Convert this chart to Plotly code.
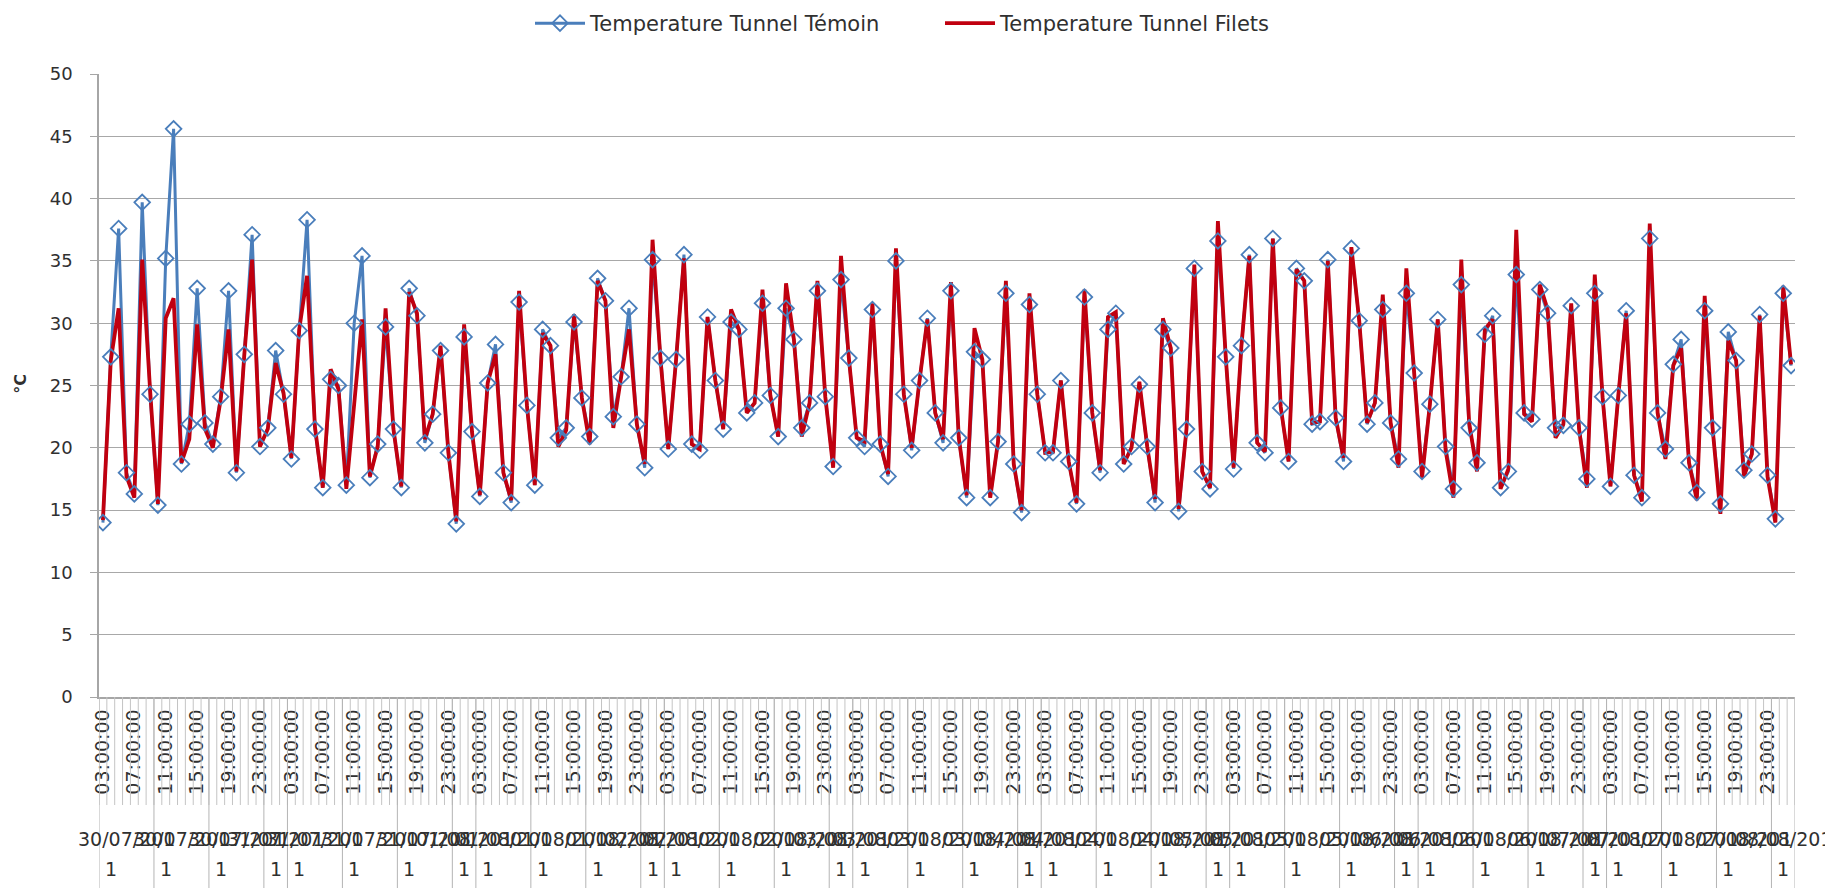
import plotly.graph_objects as go

# ---------------- data ----------------
dates = ["30/07/2011", "31/07/2011", "01/08/2011", "02/08/2011", "03/08/2011",
         "04/08/2011", "05/08/2011", "06/08/2011", "07/08/2011", "08/08/2011"]
first_hour = 3                      # first reading at 03:00:00 on 30/07/2011
label_every = 4                     # a time label every 4th reading
group_start_hours = [3, 10, 17, 0]  # where the date-level groups start

temoin = [
    14.0, 27.3, 37.6, 18.0, 16.3, 39.7, 24.3, 15.4, 35.2, 45.6,
    18.7, 21.9, 32.8, 22.0, 20.3, 24.1, 32.6, 18.0, 27.5, 37.1,
    20.1, 21.6, 27.8, 24.3, 19.1, 29.4, 38.3, 21.5, 16.8, 25.5,
    25.0, 17.0, 30.0, 35.4, 17.6, 20.3, 29.7, 21.5, 16.8, 32.8,
    30.6, 20.4, 22.7, 27.8, 19.6, 13.9, 28.9, 21.3, 16.1, 25.2,
    28.3, 18.0, 15.6, 31.7, 23.4, 17.0, 29.5, 28.2, 20.8, 21.6,
    30.1, 24.0, 20.9, 33.6, 31.8, 22.5, 25.7, 31.2, 21.9, 18.4,
    35.1, 27.2, 19.9, 27.1, 35.5, 20.3, 19.8, 30.5, 25.4, 21.5,
    30.1, 29.5, 22.8, 23.6, 31.6, 24.2, 20.9, 31.2, 28.7, 21.6,
    23.6, 32.6, 24.1, 18.5, 33.5, 27.2, 20.8, 20.1, 31.1, 20.3,
    17.7, 35.0, 24.3, 19.8, 25.4, 30.4, 22.8, 20.4, 32.6, 20.8,
    16.0, 27.7, 27.1, 16.0, 20.5, 32.4, 18.7, 14.8, 31.5, 24.3,
    19.6, 19.6, 25.4, 18.9, 15.5, 32.1, 22.8, 18.0, 29.5, 30.8,
    18.7, 20.1, 25.1, 20.1, 15.6, 29.5, 28.0, 14.9, 21.5, 34.4,
    18.1, 16.7, 36.6, 27.3, 18.3, 28.2, 35.5, 20.4, 19.6, 36.8,
    23.2, 18.9, 34.4, 33.4, 21.9, 22.1, 35.1, 22.4, 18.9, 36.0,
    30.2, 21.9, 23.6, 31.1, 22.0, 19.1, 32.4, 26.0, 18.1, 23.5,
    30.3, 20.1, 16.7, 33.1, 21.6, 18.8, 29.1, 30.6, 16.8, 18.1,
    33.9, 22.8, 22.3, 32.7, 30.8, 21.6, 21.8, 31.4, 21.6, 17.5,
    32.4, 24.1, 16.9, 24.2, 31.0, 17.8, 16.0, 36.8, 22.8, 19.9,
    26.7, 28.7, 18.8, 16.4, 31.0, 21.6, 15.5, 29.3, 27.0, 18.2,
    19.5, 30.7, 17.8, 14.3, 32.4, 26.6,
]

filets = [
    14.2, 27.0, 31.2, 17.7, 16.0, 35.1, 24.7, 15.5, 30.4, 32.0,
    18.8, 20.7, 29.9, 21.5, 20.0, 23.9, 29.5, 18.1, 27.4, 35.1,
    20.1, 21.5, 26.8, 24.4, 19.2, 29.5, 33.8, 21.7, 16.8, 26.3,
    24.7, 16.7, 23.5, 30.3, 17.7, 20.1, 31.2, 21.5, 16.9, 32.5,
    30.8, 20.7, 22.7, 28.2, 19.6, 14.1, 29.9, 21.3, 16.2, 25.2,
    27.5, 18.0, 15.8, 32.6, 23.4, 17.0, 29.2, 28.2, 20.1, 21.4,
    30.7, 24.0, 20.3, 33.4, 31.8, 21.6, 25.7, 29.5, 21.9, 18.7,
    36.7, 27.2, 19.9, 27.1, 35.2, 20.3, 19.9, 30.5, 25.4, 21.5,
    31.1, 29.5, 22.8, 23.6, 32.7, 24.2, 20.9, 33.2, 28.7, 20.9,
    23.6, 33.4, 24.1, 18.4, 35.4, 27.2, 20.8, 20.5, 31.6, 20.3,
    17.9, 36.0, 24.3, 20.0, 25.4, 30.3, 22.8, 20.7, 33.3, 20.8,
    16.2, 29.6, 27.1, 16.0, 20.5, 33.4, 18.7, 15.0, 32.4, 24.3,
    19.6, 19.7, 25.4, 18.9, 15.6, 32.7, 22.8, 18.2, 30.5, 30.9,
    18.7, 20.0, 25.3, 20.1, 15.9, 30.4, 28.0, 15.1, 21.5, 34.7,
    18.1, 16.8, 38.2, 27.3, 18.4, 28.2, 35.4, 20.4, 19.7, 36.8,
    23.3, 18.9, 34.3, 33.4, 22.0, 22.1, 35.0, 22.4, 19.2, 36.1,
    30.2, 22.0, 23.6, 32.3, 22.0, 18.4, 34.4, 26.0, 17.6, 23.5,
    30.3, 19.8, 16.0, 35.1, 22.0, 18.1, 29.5, 30.3, 16.7, 18.3,
    37.5, 22.7, 22.1, 33.1, 31.1, 20.8, 21.9, 31.6, 21.5, 16.8,
    33.9, 24.0, 16.9, 24.2, 30.8, 17.8, 15.7, 38.0, 22.8, 19.1,
    26.6, 28.0, 18.8, 15.8, 32.2, 21.6, 14.7, 28.6, 27.0, 17.7,
    19.5, 30.6, 17.7, 14.0, 33.0, 26.7,
]

# ---------------- categories ----------------
n = len(temoin)
cat_date, cat_time = [], []
for k in range(n):
    h = first_hour + k
    cat_date.append(dates[h // 24])
    cat_time.append(f"{h % 24:02d}:00:00")
cats = [f"{d} {t}" for d, t in zip(cat_date, cat_time)]

group_starts = [k for k in range(n) if (first_hour + k) % 24 in group_start_hours]

BLUE = "#4a7ebb"
RED = "#c0000f"
TXT = "#303030"
FONT = "DejaVu Sans"

L, R, T, B = 99, 30, 74, 191
W, H = 1825, 888
plot_w = W - L - R
plot_h = H - T - B

fig = go.Figure()
# blue line (under the red one)
fig.add_trace(go.Scatter(x=cats, y=temoin, mode="lines", line=dict(color=BLUE, width=3),
                         showlegend=False, hoverinfo="skip"))
# red line
fig.add_trace(go.Scatter(x=cats, y=filets, mode="lines", line=dict(color=RED, width=3.8),
                         name="Temperature Tunnel Filets", legendrank=2))
# blue markers drawn above both lines
fig.add_trace(go.Scatter(x=cats, y=temoin, mode="markers",
                         marker=dict(symbol="diamond-open", size=12, color=BLUE,
                                     line=dict(width=1.8)),
                         showlegend=False))
# legend entry for the blue series (line + marker)
fig.add_trace(go.Scatter(x=[None], y=[None], mode="lines+markers", name="Temperature Tunnel Témoin",
                         line=dict(color=BLUE, width=3),
                         marker=dict(symbol="diamond-open", size=12, color=BLUE, line=dict(width=1.8)),
                         legendrank=1))

shapes = []
# tick separators for every category through the time-label band
for k in range(n + 1):
    shapes.append(dict(type="line", xref="x", yref="paper", x0=k - 0.5, x1=k - 0.5,
                       y0=0, y1=-108 / plot_h, line=dict(color="#c4c4c4", width=1)))
# group separators through the date band
for k in group_starts + [n]:
    shapes.append(dict(type="line", xref="x", yref="paper", x0=k - 0.5, x1=k - 0.5,
                       y0=0, y1=-191 / plot_h, line=dict(color="#b4b4b4", width=1)))

annotations = []
ends = group_starts[1:] + [n]
for s, e in zip(group_starts, ends):
    d = cat_date[s]
    annotations.append(dict(xref="x", yref="paper", x=(s + e - 1) / 2, y=-142 / plot_h,
                            text=d[:-1], showarrow=False, xanchor="center", yanchor="middle",
                            font=dict(family=FONT, size=19, color=TXT)))
    annotations.append(dict(xref="x", yref="paper", x=s + 1, y=-172 / plot_h,
                            text=d[-1], showarrow=False, xanchor="center", yanchor="middle",
                            font=dict(family=FONT, size=19, color=TXT)))
annotations.append(dict(xref="paper", yref="paper", x=(21 - L) / plot_w, y=0.503, text="<b>°C</b>",
                        textangle=-90, showarrow=False, xanchor="center", yanchor="middle",
                        font=dict(family=FONT, size=16, color=TXT)))

fig.update_layout(
    width=W, height=H,
    margin=dict(l=L, r=R, t=T, b=B, autoexpand=False),
    paper_bgcolor="white", plot_bgcolor="white",
    font=dict(family=FONT, color=TXT),
    showlegend=True,
    legend=dict(orientation="h", x=(530 - L) / plot_w, xanchor="left",
                y=(plot_h + T - 3) / plot_h, yanchor="top",
                font=dict(family=FONT, size=21, color=TXT), entrywidth=345, itemwidth=50,
                traceorder="normal", bgcolor="rgba(0,0,0,0)"),
    shapes=shapes,
    annotations=annotations,
)
fig.update_xaxes(type="category", range=[-0.5, n - 0.5], tickmode="array",
                 tickvals=cats[::label_every], ticktext=cat_time[::label_every],
                 tickangle=-90, ticks="", showgrid=False, showline=True,
                 linecolor="#a6a6a6", linewidth=1.5, ticklabelstandoff=3,
                 tickfont=dict(family=FONT, size=19, color=TXT), zeroline=False)
fig.update_yaxes(range=[0, 50], dtick=5, showgrid=True, gridcolor="#a8a8a8", gridwidth=1.3,
                 showline=True, linecolor="#a6a6a6", linewidth=1.5, ticks="outside",
                 ticklen=7, tickcolor="#a6a6a6", tickwidth=1.3, ticklabelstandoff=14,
                 tickfont=dict(family=FONT, size=18, color=TXT), zeroline=False)

fig.write_html("out.html", config={"displayModeBar": False},
               post_script="document.body.style.margin='0';document.body.style.overflow='hidden';")
